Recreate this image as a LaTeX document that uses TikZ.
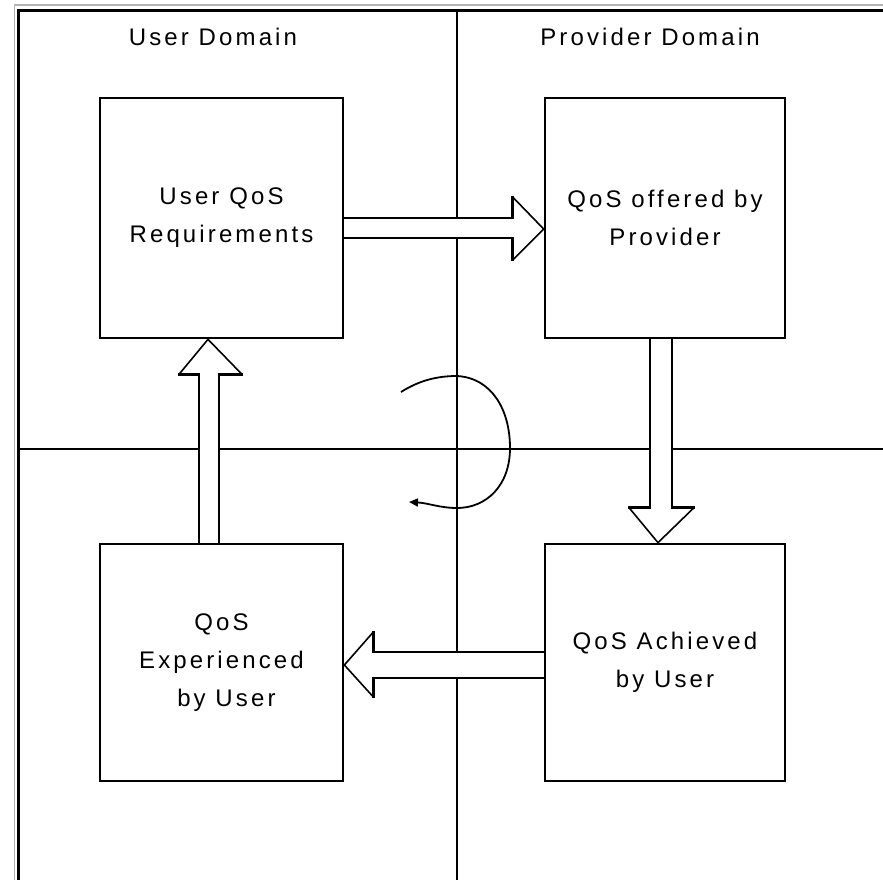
\documentclass[tikz,border=0pt]{standalone}
\usepackage{fontspec}
\newfontfamily\pixfont{Liberation Sans}[LetterSpace=13]
\usetikzlibrary{calc,arrows.meta,backgrounds}
\newcommand\hollowarrow[7]{%
  \fill[white] #1 -- #2 -- #3 -- #4 -- #5 -- #6 -- #7 -- cycle;
  \draw[shaftline] #1 -- #2 -- #3;
  \draw[shaftline] #7 -- #6 -- #5;
  \draw[headline] #3 -- #4 -- #5;}
\begin{document}
\begin{tikzpicture}[x=1pt,y=-1pt,
  box/.style={draw,line width=2.7pt,minimum width=243pt,minimum height=240pt,
    inner sep=0pt,align=center,font=\pixfont\fontsize{24}{38}\selectfont},
  divider/.style={line width=2.7pt},
  shaftline/.style={line width=2.4pt,line cap=rect},
  headline/.style={line width=1.6pt,line join=miter},
  heading/.style={font=\pixfont\fontsize{24}{38}\selectfont,anchor=base,inner sep=0pt},
  looparrow/.style={line width=1.8pt,-{Triangle[length=9pt,width=8pt]}}]
\useasboundingbox (0,0) rectangle (883,880);
% boxes
\node[box] (A) at (221.5,218) {User QoS\\Requirements};
\node[box,minimum width=240pt] (B) at (665,218) {QoS offered by\\Provider};
\node[box,minimum height=237pt] (C) at (221.5,662.5) {QoS\\Experienced\\\ by User};
\node[box,minimum width=240pt,minimum height=237pt] (D) at (665,662.5) {QoS Achieved\\by User};
% headings
\node[heading] (ud) at (213,46) {User Domain};
\node[heading] (pd) at (650,46) {Provider Domain};
\begin{scope}[on background layer]
  % frame
  \draw[gray!60,line width=1.5pt] (14.5,880) -- (14.5,5) -- (883,5);
  \draw[line width=3pt] (18.5,880) -- (18.5,10.5) -- (883,10.5);
  % dividers
  \draw[divider] (457,10.5) -- (457,880);
  \draw[divider] (18.5,449) -- (883,449);
  % hollow arrows
  \hollowarrow{(A.east)}{($(B.west)+(-31,0)$)}{($(B.west)+(-31,-21)$)}{($(B.west)+(0,11)$)}{($(B.west)+(-31,42)$)}{($(B.west)+(-31,20)$)}{($(A.east)+(0,20)$)}
  \hollowarrow{($(B.south)+(-15,0)$)}{($(D.north)+(-15,-35)$)}{($(D.north)+(-36,-35)$)}{($(D.north)+(-7,0)$)}{($(D.north)+(29,-35)$)}{($(D.north)+(7,-35)$)}{($(B.south)+(7,0)$)}
  \hollowarrow{($(D.west)+(0,-10.5)$)}{($(C.east)+(29,-10.5)$)}{($(C.east)+(29,-30.5)$)}{($(C.east)+(0,2.5)$)}{($(C.east)+(29,34.5)$)}{($(C.east)+(29,15.5)$)}{($(D.west)+(0,15.5)$)}
  \hollowarrow{($(C.north)+(-22.5,0)$)}{($(A.south)+(-22.5,35)$)}{($(A.south)+(-42.5,35)$)}{($(A.south)+(-13.5,0)$)}{($(A.south)+(20.5,35)$)}{($(A.south)+(-2.5,35)$)}{($(C.north)+(-2.5,0)$)}
\end{scope}
% cycle arrow
\draw[looparrow] (401,392) .. controls (420,380) and (438,376) .. (457,376)
  .. controls (492,378) and (510,410) .. (510,448)
  .. controls (510,486) and (486,508) .. (457,508)
  .. controls (440,508) and (428,503) .. (409,502);
\end{tikzpicture}
\end{document}
